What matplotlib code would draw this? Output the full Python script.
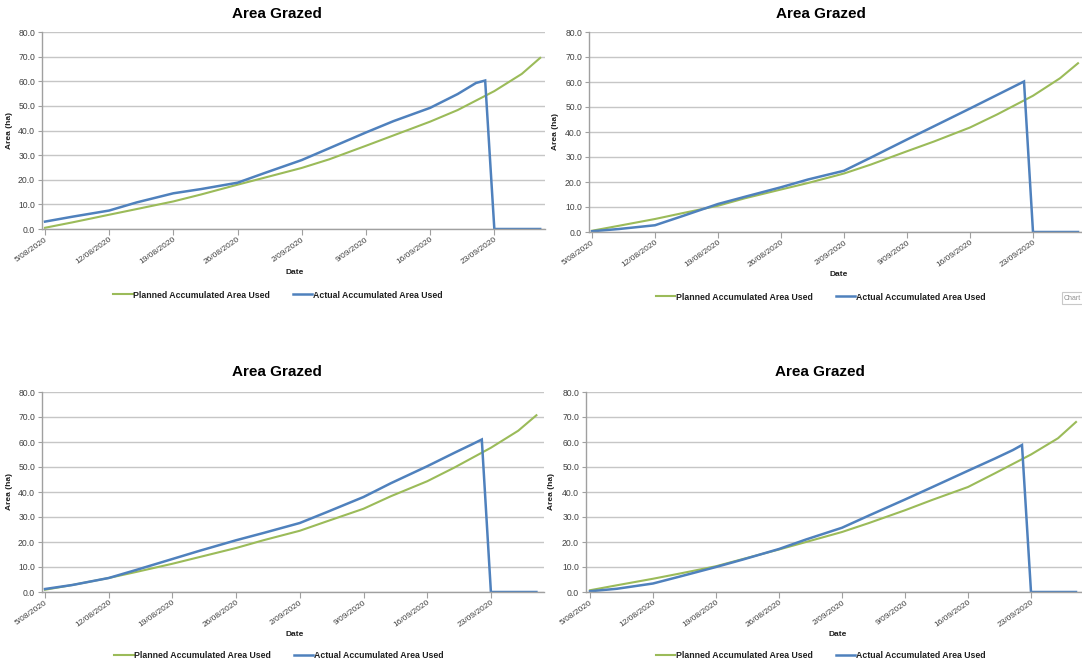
import matplotlib
matplotlib.use('Agg')
import matplotlib.pyplot as plt
from matplotlib.lines import Line2D
from matplotlib.ticker import MultipleLocator, FuncFormatter
from datetime import date, timedelta

plt.rcParams['font.family'] = ['Liberation Sans', 'DejaVu Sans']

start_date = date(2020, 8, 5)
chart_title = 'Area Grazed'
planned_label = 'Planned Accumulated Area Used'
actual_label = 'Actual Accumulated Area Used'

# days since 5/08/2020
plan_days = [0, 3, 7, 10, 14, 17, 21, 24, 28, 31, 35, 38, 42, 45, 49, 52, 54]
actual_days = [0, 3, 7, 10, 14, 17, 21, 24, 28, 31, 35, 38, 42, 45, 47, 48, 49, 54]

# planned accumulated area (ha), one list per paddock chart
planned_a = [0.5, 2.7, 5.8, 8.1, 11.2, 14.0, 18.0, 20.9, 24.8, 28.3, 33.8, 38.0, 43.6, 48.3, 56.0, 63.0, 69.5]
planned_b = [0.5, 2.5, 5.2, 7.5, 10.5, 13.5, 17.0, 19.6, 23.4, 27.0, 32.3, 36.2, 41.8, 47.0, 54.5, 61.5, 67.5]
planned_c = [0.9, 2.8, 5.6, 8.0, 11.3, 14.0, 17.6, 20.7, 24.5, 28.3, 33.3, 38.3, 44.3, 49.8, 57.7, 64.5, 70.7]
planned_d = [0.7, 2.7, 5.3, 7.4, 10.3, 13.2, 17.0, 20.0, 24.0, 27.6, 32.7, 36.8, 42.0, 47.5, 55.0, 61.5, 68.0]

# actual accumulated area (ha), drops back to 0 once the round is finished
actual_a = [3.0, 5.0, 7.5, 10.8, 14.5, 16.2, 18.8, 22.8, 28.0, 32.8, 39.2, 43.8, 49.2, 54.8, 59.3, 60.3, 0.0, 0.0]
actual_b = [0.3, 1.2, 2.7, 6.3, 11.2, 14.1, 17.9, 21.0, 24.5, 29.8, 37.0, 42.3, 49.4, 54.8, 58.4, 60.2, 0.0, 0.0]
actual_c = [1.2, 2.8, 5.6, 8.8, 13.2, 16.5, 20.7, 23.6, 27.6, 32.0, 38.0, 43.5, 50.3, 55.7, 59.2, 61.0, 0.0, 0.0]
actual_d = [0.3, 1.3, 3.4, 6.2, 10.0, 13.0, 17.2, 21.0, 25.7, 30.6, 37.0, 41.9, 48.5, 53.4, 56.8, 58.8, 0.0, 0.0]

y_ticks = [0, 10, 20, 30, 40, 50, 60, 70, 80]

green = '#9bbb59'
blue = '#4f81bd'
grid_col = '#c6c6c6'
axis_col = '#a0a0a0'
text_col = '#404040'

W, H = 1082, 664
fig = plt.figure(figsize=(W / 100, H / 100), dpi=100)
fig.patch.set_facecolor('white')

# pixel layout of each chart: day-0 x, px per day, spine x, right, top, bottom,
# title centre, legend centre, y-label x, x-label y
panels = [
    dict(plan=planned_a, act=actual_a, x0=45, ppd=9.17, spine=42, right=545, top=32, bottom=229,
         title=(277, 14), legend=(278, 295), ylab=13, xlab=272),
    dict(plan=planned_b, act=actual_b, x0=592, ppd=9.0, spine=589, right=1085, top=32, bottom=232,
         title=(821, 14), legend=(821, 297), ylab=559, xlab=275),
    dict(plan=planned_c, act=actual_c, x0=45, ppd=9.1, spine=42, right=544, top=392, bottom=592,
         title=(277, 372), legend=(279, 656), ylab=13, xlab=635),
    dict(plan=planned_d, act=actual_d, x0=590, ppd=9.0, spine=586, right=1085, top=392, bottom=592,
         title=(820, 372), legend=(821, 656), ylab=555, xlab=635),
]


def date_label(d, pos):
    dt = start_date + timedelta(days=int(round(d)))
    return f'{dt.day}/{dt.month:02d}/{dt.year}'


for p in panels:
    ax = fig.add_axes([p['spine'] / W, 1 - p['bottom'] / H,
                       (p['right'] - p['spine']) / W, (p['bottom'] - p['top']) / H])
    ax.plot(plan_days, p['plan'], color=green, lw=1.5, solid_joinstyle='round')
    ax.plot(actual_days, p['act'], color=blue, lw=1.8, solid_joinstyle='miter')

    ax.set_xlim((p['spine'] - p['x0']) / p['ppd'], (p['right'] - p['x0']) / p['ppd'])
    ax.set_ylim(0, 80)
    ax.set_yticks(y_ticks)
    ax.yaxis.set_major_formatter(FuncFormatter(lambda v, pos: f'{v:.1f}'))
    ax.xaxis.set_major_locator(MultipleLocator(7))
    ax.xaxis.set_major_formatter(FuncFormatter(date_label))

    ax.grid(axis='y', color=grid_col, lw=1.0)
    ax.set_axisbelow(True)
    for s in ['top', 'right']:
        ax.spines[s].set_visible(False)
    for s in ['left', 'bottom']:
        ax.spines[s].set_color(axis_col)
        ax.spines[s].set_linewidth(1.0)
    ax.tick_params(axis='y', length=3, width=0.8, color=axis_col, labelsize=6.2,
                   labelcolor=text_col, pad=2)
    ax.tick_params(axis='x', length=4, width=0.8, color=axis_col, labelsize=6,
                   labelcolor=text_col, pad=1)
    for lbl in ax.get_xticklabels():
        lbl.set_rotation(35)
        lbl.set_ha('right')
        lbl.set_rotation_mode('anchor')

    ax.set_ylabel('Area (ha)', fontsize=6, fontweight='bold', color='#202020')
    ax.yaxis.set_label_coords(p['ylab'] / W, 1 - (p['top'] + p['bottom']) / 2 / H,
                              transform=fig.transFigure)
    ax.set_xlabel('Date', fontsize=6, fontweight='bold', color='#202020')
    ax.xaxis.set_label_coords((p['x0'] + p['right']) / 2 / W, 1 - p['xlab'] / H,
                              transform=fig.transFigure)
    ax.xaxis.label.set_va('center')

    fig.text(p['title'][0] / W, 1 - p['title'][1] / H, chart_title, ha='center', va='center',
             fontsize=11, fontweight='bold', color='black')

    handles = [Line2D([], [], color=green, lw=1.5), Line2D([], [], color=blue, lw=1.8)]
    fig.legend(handles, [planned_label, actual_label], loc='center', ncol=2,
               bbox_to_anchor=(p['legend'][0] / W, 1 - p['legend'][1] / H),
               frameon=False, prop={'weight': 'bold', 'size': 6.3},
               handlelength=2.2, handletextpad=0.1, columnspacing=2.6, labelcolor='#202020')

# hover tag left over at the edge of the second chart
fig.text(1064 / W, 1 - 298 / H, 'Chart', fontsize=5, color='#909090', va='center',
         bbox=dict(boxstyle='square,pad=0.3', fc='white', ec='#c8c8c8', lw=0.8))

fig.savefig('out.png', dpi=100, facecolor='white')
